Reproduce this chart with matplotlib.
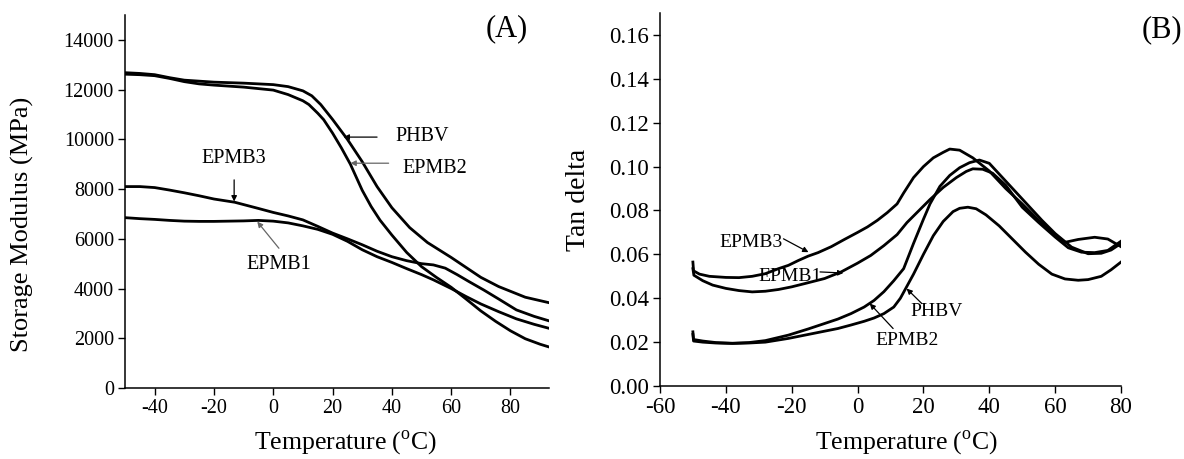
import matplotlib
matplotlib.use("Agg")
import matplotlib.pyplot as plt

plt.rcParams["font.family"] = "Liberation Serif"
plt.rcParams["mathtext.fontset"] = "custom"
plt.rcParams["mathtext.rm"] = "Liberation Serif"
plt.rcParams["axes.unicode_minus"] = False

# ---- (A) storage modulus, MPa ------------------------------------------------
phbv_t_a = [-50, -45, -40, -35, -30, -25, -20, -10, 0, 5, 10, 13, 16, 20, 25, 30,
            35, 40, 46, 52, 60, 70, 76, 85, 93]
phbv_e = [12680, 12650, 12600, 12480, 12380, 12340, 12300, 12260, 12200, 12120,
          11950, 11750, 11400, 10800, 10000, 9100, 8100, 7250, 6450, 5850, 5250,
          4450, 4080, 3650, 3430]

epmb2_t_a = [-50, -45, -40, -35, -30, -25, -20, -10, 0, 5, 10, 12, 15, 17, 20, 23,
             26, 30, 33, 36, 40, 45, 50, 55, 60, 65, 70, 75, 80, 85, 90, 93]
epmb2_e = [12620, 12600, 12560, 12450, 12320, 12230, 12180, 12100, 11980, 11800,
           11550, 11400, 11050, 10790, 10250, 9650, 9000, 7950, 7300, 6750, 6150,
           5450, 4880, 4450, 4050, 3580, 3100, 2680, 2300, 1980, 1760, 1650]

epmb3_t_a = [-50, -45, -40, -35, -30, -25, -20, -13, -5, 0, 5, 10, 15, 20, 25, 30,
             35, 40, 45, 50, 54, 58, 62, 66, 71, 76, 82, 88, 93]
epmb3_e = [8100, 8100, 8060, 7960, 7850, 7730, 7600, 7470, 7220, 7060, 6920, 6760,
           6500, 6230, 6000, 5760, 5500, 5280, 5120, 5000, 4950, 4820, 4560, 4280,
           3940, 3580, 3140, 2880, 2700]

epmb1_t_a = [-50, -45, -40, -35, -30, -25, -20, -15, -10, -5, 0, 5, 10, 15, 20, 25,
             30, 35, 40, 45, 50, 54, 60, 65, 70, 76, 82, 88, 93]
epmb1_e = [6850, 6810, 6780, 6740, 6710, 6700, 6700, 6710, 6720, 6740, 6710, 6640,
           6520, 6380, 6180, 5900, 5560, 5280, 5050, 4800, 4560, 4350, 4000, 3680,
           3380, 3070, 2780, 2560, 2400]

# ---- (B) tan delta ------------------------------------------------------------
epmb3_t_b = [-50, -49.8, -48, -45, -40, -36, -32, -28, -24, -21, -18, -15, -12, -8,
             -4, 0, 3, 6, 9, 12, 14, 17, 20, 23, 26, 28, 31, 35, 40, 45, 50, 55, 60,
             63, 67, 72, 76, 80]
epmb3_tan = [0.0565, 0.0525, 0.051, 0.050, 0.0495, 0.0494, 0.0500, 0.0512, 0.0535,
             0.055, 0.0572, 0.0592, 0.0608, 0.0635, 0.0668, 0.070, 0.0725, 0.0755,
             0.079, 0.083, 0.088, 0.095, 0.100, 0.104, 0.1065, 0.108, 0.1075, 0.104,
             0.098, 0.090, 0.083, 0.0755, 0.069, 0.0655, 0.0668, 0.0678, 0.067,
             0.0635]

epmb1_t_b = [-50, -49.7, -47, -44, -40, -36, -32, -28, -24, -20, -16, -10, -5, 0, 4,
             8, 12, 15, 18, 22, 26, 30, 33, 35, 38, 41, 45, 50, 55, 60, 64, 68, 72,
             76, 80]
epmb1_tan = [0.0535, 0.0505, 0.048, 0.046, 0.0445, 0.0435, 0.0429, 0.0432, 0.044,
             0.0452, 0.0467, 0.049, 0.052, 0.056, 0.0595, 0.064, 0.069, 0.0745,
             0.079, 0.085, 0.0905, 0.095, 0.0978, 0.099, 0.0988, 0.097, 0.0915,
             0.0815, 0.0745, 0.0679, 0.063, 0.061, 0.0608, 0.0618, 0.066]

epmb2_t_b = [-50, -49.8, -47, -43, -38, -33, -28, -21, -15, -10, -6, -2, 2, 5, 8,
             11, 14, 17, 20, 22, 25, 28, 31, 34, 37, 40, 44, 48, 52, 56, 60, 65, 70,
             74, 77, 80]
epmb2_tan = [0.0247, 0.0212, 0.0205, 0.0198, 0.0195, 0.0198, 0.0207, 0.0232, 0.026,
             0.0285, 0.0305, 0.033, 0.036, 0.039, 0.043, 0.048, 0.0535, 0.065,
             0.076, 0.083, 0.091, 0.096, 0.0995, 0.1018, 0.103, 0.1015, 0.095,
             0.0885, 0.082, 0.0755, 0.0695, 0.0633, 0.0603, 0.0605, 0.062, 0.065]

phbv_t_b = [-50, -49.8, -47, -43, -38, -33, -28, -21, -15, -10, -6, -2, 2, 5, 8, 11,
            13, 15, 17, 20, 23, 26, 29, 31, 33.5, 36, 39, 43, 47, 51, 55, 59, 63, 67,
            70, 74, 77, 80]
phbv_tan = [0.0235, 0.0205, 0.020, 0.0196, 0.0194, 0.0196, 0.020, 0.0217, 0.0235,
            0.025, 0.0262, 0.0278, 0.0295, 0.031, 0.033, 0.036, 0.040, 0.0455,
            0.051, 0.060, 0.0685, 0.075, 0.0795, 0.081, 0.0815, 0.0808, 0.078,
            0.073, 0.067, 0.061, 0.0555, 0.051, 0.0488, 0.0482, 0.0485, 0.050,
            0.053, 0.0565]

xticks_a = [-40, -20, 0, 20, 40, 60, 80]
yticks_a = [0, 2000, 4000, 6000, 8000, 10000, 12000, 14000]
xticks_b = [-60, -40, -20, 0, 20, 40, 60, 80]
yticks_b = [0.00, 0.02, 0.04, 0.06, 0.08, 0.10, 0.12, 0.14, 0.16]

LW = 2.0
XLABEL = r"Temperature ($^{\mathrm{o}}$C)"


def style(ax, tick_fs):
    for side in ("top", "right"):
        ax.spines[side].set_visible(False)
    for side in ("left", "bottom"):
        ax.spines[side].set_linewidth(1.1)
    ax.tick_params(direction="out", length=5, width=1.0, labelsize=tick_fs, pad=3)


def tag(ax, text, txt_xy, tail, head, fs, color="black", ha="center"):
    ax.text(txt_xy[0], txt_xy[1], text, fontsize=fs, ha=ha, va="center")
    ax.annotate("", xy=head, xytext=tail,
                arrowprops=dict(arrowstyle="-|>", color=color, lw=0.9,
                                mutation_scale=8, shrinkA=0, shrinkB=0))


fig = plt.figure(figsize=(11.84, 4.59), dpi=100)
ax_a = fig.add_axes([0.1056, 0.1547, 0.3581, 0.8126])
ax_b = fig.add_axes([0.5574, 0.1590, 0.3894, 0.8126])

# ---- panel A --------------------------------------------------------------------
for t, e in [(phbv_t_a, phbv_e), (epmb2_t_a, epmb2_e),
             (epmb3_t_a, epmb3_e), (epmb1_t_a, epmb1_e)]:
    ax_a.plot(t, e, color="black", lw=LW)
ax_a.set_xlim(-50, 93)
ax_a.set_ylim(0, 15000)
ax_a.set_xticks(xticks_a)
ax_a.set_yticks(yticks_a)
style(ax_a, 14.5)
ax_a.set_xlabel(XLABEL, fontsize=18.5)
ax_a.xaxis.set_label_coords(0.52, -0.108)
ax_a.set_ylabel("Storage Modulus (MPa)", fontsize=19)
ax_a.yaxis.set_label_coords(-0.215, 0.44)
ax_a.text(0.90, 0.964, "(A)", transform=ax_a.transAxes, fontsize=22,
          ha="center", va="center")

tag(ax_a, "PHBV", (41.1, 10110), (35, 10090), (23.7, 10090), 14.5, ha="left")
tag(ax_a, "EPMB2", (43.4, 8840), (38.9, 9040), (26, 9040), 14.5, color="0.4", ha="left")
tag(ax_a, "EPMB3", (-13.2, 9240), (-13.2, 8370), (-13.2, 7500), 14.5)
tag(ax_a, "EPMB1", (1.9, 4950), (1.9, 5620), (-5.4, 6690), 14.5, color="0.4")

# ---- panel B --------------------------------------------------------------------
for t, v in [(epmb3_t_b, epmb3_tan), (epmb1_t_b, epmb1_tan),
             (epmb2_t_b, epmb2_tan), (phbv_t_b, phbv_tan)]:
    ax_b.plot(t, v, color="black", lw=LW)
ax_b.set_xlim(-60, 80)
ax_b.set_ylim(0, 0.17)
ax_b.set_xticks(xticks_b)
ax_b.set_yticks(yticks_b)
ax_b.set_yticklabels([f"{v:.2f}" for v in yticks_b])
style(ax_b, 16.5)
ax_b.set_xlabel(XLABEL, fontsize=18.5)
ax_b.xaxis.set_label_coords(0.535, -0.113)
ax_b.set_ylabel("Tan delta", fontsize=20)
ax_b.yaxis.set_label_coords(-0.15, 0.5)
ax_b.text(1.089, 0.954, "(B)", transform=ax_b.transAxes, fontsize=22,
          ha="center", va="center")

tag(ax_b, "EPMB3", (-32.4, 0.0656), (-22.5, 0.0671), (-14.9, 0.061), 14)
tag(ax_b, "EPMB1", (-20.5, 0.0497), (-11.4, 0.052), (-4.3, 0.0515), 14)
tag(ax_b, "PHBV", (24, 0.0338), (19.5, 0.0376), (14.9, 0.0444), 14)
tag(ax_b, "EPMB2", (15.1, 0.0209), (10.8, 0.0262), (3.7, 0.0376), 14)

fig.savefig("out.png", dpi=100)
